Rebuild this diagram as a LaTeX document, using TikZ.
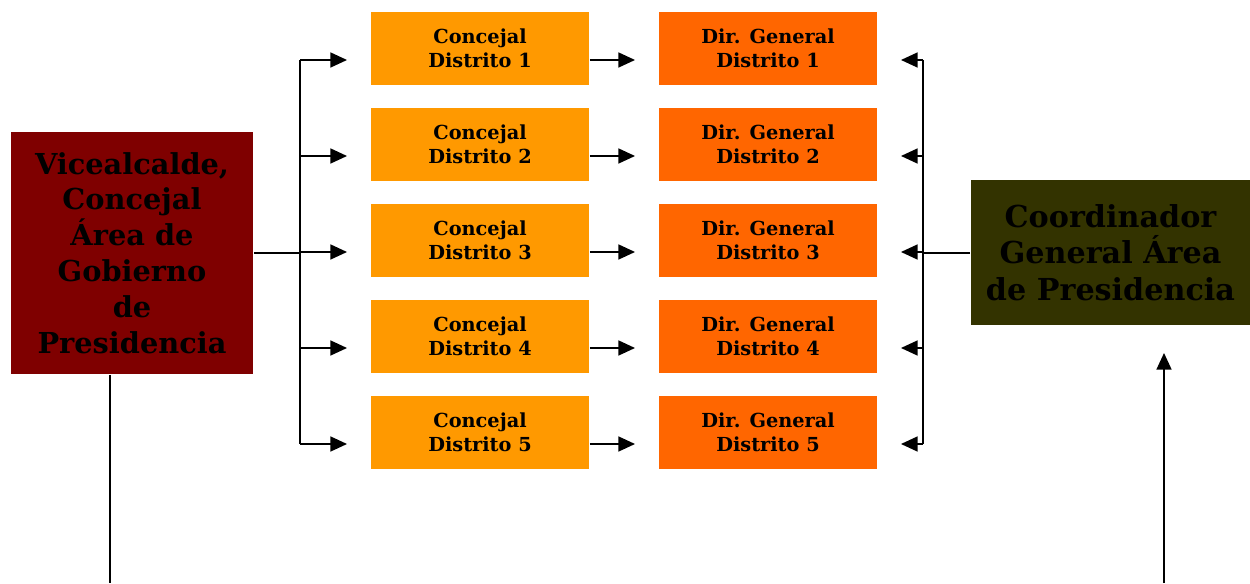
\documentclass[tikz,border=0pt]{standalone}
\usepackage{fontspec}
\setmainfont{DejaVu Serif}
\usetikzlibrary{arrows.meta,calc}
\definecolor{vicered}{HTML}{7F0000}
\definecolor{concorange}{HTML}{FF9900}
\definecolor{dirorange}{HTML}{FF6600}
\definecolor{coordolive}{HTML}{333300}

\begin{document}
\begin{tikzpicture}[>={Triangle[length=9.5pt,width=8.5pt]}, line width=1.1pt,
    distbox/.style={inner sep=0pt, align=center, text=black,
      font=\bfseries\fontsize{11}{13.6}\selectfont,
      minimum width=4.36cm, minimum height=1.46cm},
    bigbox/.style={inner sep=0pt, align=center, text=black,
      font=\bfseries\fontsize{16.4}{20.4}\selectfont}]
    \useasboundingbox (0,0) rectangle (25,11.66);
    % main boxes
    \node[bigbox, fill=vicered, minimum width=4.84cm, minimum height=4.84cm] (vice) at (2.64,6.6)
      {Vicealcalde,\\Concejal\\Área de\\Gobierno\\de\\Presidencia};
    \node[bigbox, font=\bfseries\fontsize{17.2}{20.8}\selectfont, fill=coordolive,
      minimum width=5.58cm, minimum height=2.9cm] (coord) at (22.21,6.61)
      {Coordinador\\General Área\\de Presidencia};
    % buses
    \coordinate (lbus) at (6,6.6);
    \coordinate (rbus) at (18.46,6.6);
    \draw (vice.east |- lbus) -- (lbus);
    \draw (coord.west |- rbus) -- (rbus);
    \draw (6,10.46) -- (6,2.78);
    \draw (18.46,10.46) -- (18.46,2.78);
    % districts
    \foreach \i in {1,...,5} {
      \node[distbox, fill=concorange] (conc\i) at (9.6,{10.69-1.92*(\i-1)}) {Concejal\\Distrito \i};
      \node[distbox, fill=dirorange] (dir\i) at (15.36,{10.69-1.92*(\i-1)}) {Dir. General\\Distrito \i};
      \coordinate (row\i) at ($(conc\i.center)+(0,-0.23)$);
      \draw[->, shorten >=0.46cm] (6,0 |- row\i) -- (conc\i.west |- row\i);
      \draw[->, shorten >=0.46cm] (conc\i.east |- row\i) -- (dir\i.west |- row\i);
      \draw[->, shorten >=0.46cm] (18.46,0 |- row\i) -- (dir\i.east |- row\i);
    }
    % lower links
    \coordinate (vdown) at (2.2,0);
    \coordinate (cdown) at (23.28,0);
    \draw (vice.south -| vdown) -- (vdown);
    \draw[->, shorten >=0.54cm] (cdown) -- (coord.south -| cdown);
  \end{tikzpicture}
\end{document}
